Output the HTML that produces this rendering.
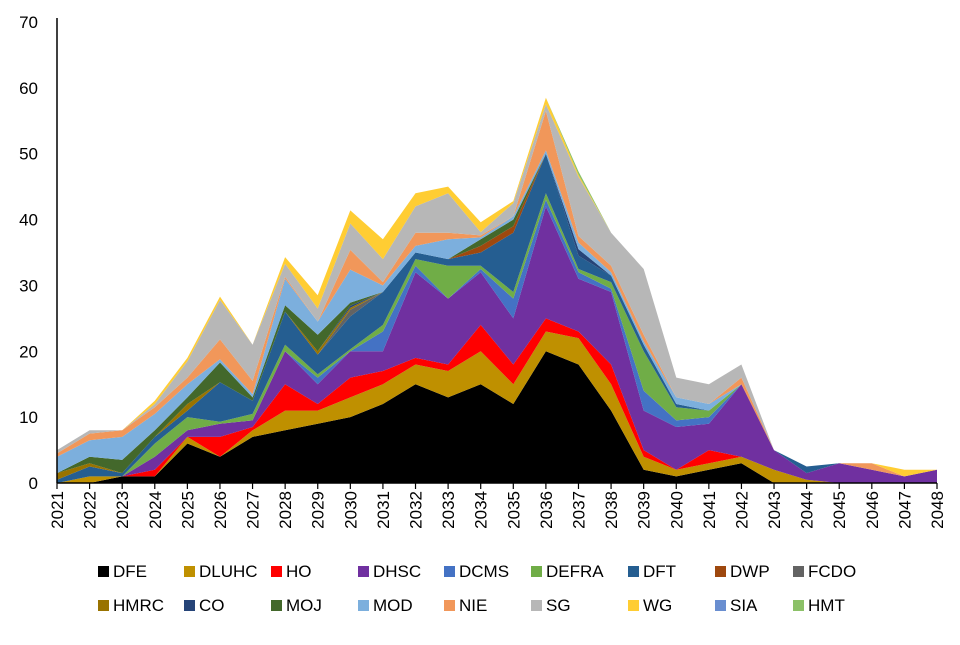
<!DOCTYPE html>
<html><head><meta charset="utf-8"><style>
body{margin:0;background:#fff;font-family:"Liberation Sans",Arial,sans-serif}
svg text{font-family:"Liberation Sans",Arial,sans-serif;fill:#000}
</style></head><body>
<svg id="chart" width="960" height="640" xmlns="http://www.w3.org/2000/svg"></svg>
<script>
const years=[2021,2022,2023,2024,2025,2026,2027,2028,2029,2030,2031,2032,2033,2034,2035,2036,2037,2038,2039,2040,2041,2042,2043,2044,2045,2046,2047,2048];
const seriesNames=["DFE","DLUHC","HO","DHSC","DCMS","DEFRA","DFT","DWP","FCDO","HMRC","CO","MOJ","MOD","NIE","SG","WG","SIA","HMT"];
const seriesColors=["#000000","#bf9000","#ff0000","#7030a0","#4472c4","#70ad47","#255e91","#9e480e","#636363","#997300","#264478","#43682b","#7cafdd","#f1975a","#b7b7b7","#ffcd33","#698ed0","#8cc168"];
const DFE  =[0,0,1,1,6,4,7,8,9,10,12,15,13,15,12,20,18,11,2,1,2,3,0,0,0,0,0,0];
const DLUHC=[0,1,0,0,1,0,1,3,2,3,3,3,4,5,3,3,4,4,2,1,1,1,2,0.5,0,0,0,0];
const HO   =[0,0,0,1,0,3,0.5,4,1,3,2,1,1,4,3,2,1,3,1,0,2,0,0,0,0,0,0,0];
const DHSC =[0,0,0,2,1,2,1,5,3,4,3,13,10,8,7,17,8,11,6,6.5,4,11,3,1,3,2,1,2];
const DCMS =[0,0,0,0,0,0,0,0,1,0,3,1,0,0.5,3,1,1,0.5,3,1,1,0,0,0,0,0,0,0];
const DEFRA=[0,0,0,2,2,0.3,1,1,0.5,0.3,1,1,5,0.5,1,1,0.5,1,6,2,1,0,0,0,0,0,0,0];
const DFT  =[0.5,1.5,0.5,1,1,6,2,5,3,5,5,1,1,2,9,6,2,1,1,0.5,0,0,0,1,0,0,0,0];
const DWP  =[0,0,0,0,0,0,0,0,0,0,0,0,0,1,1,0,0,0,0,0,0,0,0,0,0,0,0,0];
const FCDO =[0,0,0,0,0,0,0,0,0,1,0,0,0,0,0,0,0,0,0,0,0,0,0,0,0,0,0,0];
const HMRC =[1,0.5,0,0,1,0,0,0,0.5,0.3,0,0,0,0,0,0,0,0,0,0,0,0,0,0,0,0,0,0];
const CO   =[0,0,0,0,0,0,0,0,0,0.3,0,0,0,0,0,0,1,0,0,0,0,0,0,0,0,0,0,0];
const MOJ  =[0,1,2,1,1,3,0.5,1,2.5,0.5,0,0,0,1,1,0,0,0,0,0,0,0,0,0,0,0,0,0];
const MOD  =[2.5,2.5,3.5,2.5,2,0.5,0.5,4,2,5,1,1,3,0.3,0.5,0.5,1,0.5,0.5,1,1,0,0,0,0,0,0,0];
const NIE  =[0.5,1,1,1,1,3,2,0.3,0,3,0.5,2,1,0.3,0,6,1,1,1,0,0,1,0,0,0,1,0,0];
const SG   =[0.5,0.5,0,0.5,2.5,6,5.5,2,2,4,3.5,4,6,0.5,2,1,9,5,10,3,3,2,0,0,0,0,0,0];
const WG   =[0,0,0,0.5,0.5,0.5,0,1,2,2,3,2,1,1.5,0.3,1,0.3,0,0,0,0,0,0,0,0,0,1,0];
const SIA  =[0,0,0,0,0,0,0,0,0,0,0,0,0,0,0,0,0,0,0,0,0,0,0,0,0,0,0,0];
const HMT  =[0,0,0,0,0,0,0,0,0,0,0,0,0,0,0,0,0.5,0,0,0,0,0,0,0,0,0,0,0];
const seriesValues=[DFE,DLUHC,HO,DHSC,DCMS,DEFRA,DFT,DWP,FCDO,HMRC,CO,MOJ,MOD,NIE,SG,WG,SIA,HMT];
const yTicks=[0,10,20,30,40,50,60,70];

const NS="http://www.w3.org/2000/svg";
const svg=document.getElementById('chart');
const X0=57,X1=937,Y0=483,Y1=22,YMAX=70;
const xs=i=>X0+(X1-X0)*i/(years.length-1);
const ys=v=>Y0-(Y0-Y1)*v/YMAX;
function mk(t,a){const e=document.createElementNS(NS,t);for(const k in a)e.setAttribute(k,a[k]);svg.appendChild(e);return e;}

let base=years.map(()=>0);
seriesValues.forEach((vals,s)=>{
  const top=base.map((b,i)=>b+vals[i]);
  let d="";
  top.forEach((v,i)=>{d+=(i?"L":"M")+xs(i).toFixed(1)+","+ys(v).toFixed(1);});
  for(let i=years.length-1;i>=0;i--)d+="L"+xs(i).toFixed(1)+","+ys(base[i]).toFixed(1);
  d+="Z";
  const p=mk('path',{d:d,fill:seriesColors[s],stroke:'none'});
  
  
  base=top;
});

const ya=mk('line',{x1:X0,y1:Y1-4,x2:X0,y2:Y0,stroke:'#000','stroke-width':1.5});


const xa=mk('line',{x1:X0,y1:Y0,x2:X1,y2:Y0,stroke:'#000','stroke-width':1.5});



yTicks.forEach(v=>{
  const t=mk('text',{x:38,y:ys(v)+6,'text-anchor':'end','font-size':17});
  t.textContent=v;
  
  
});
years.forEach((yr,i)=>{
  const tk=mk('line',{x1:xs(i),y1:Y0,x2:xs(i),y2:Y0+6,stroke:'#000','stroke-width':1.2});
  
  
  const t=mk('text',{x:0,y:0,'text-anchor':'end','font-size':17,transform:`translate(${xs(i)+6},${Y0+8}) rotate(-90)`});
  t.textContent=yr;
  
  
});

const legendX=[113,199,286,373,459,546,643,730,808];
seriesNames.forEach((n,s)=>{
  const row=Math.floor(s/9),col=s%9;
  const lx=legendX[col],ly=row?611:577;
  const sw=mk('rect',{x:lx-15,y:ly-11,width:11,height:11,fill:seriesColors[s]});
  
  
  const t=mk('text',{x:lx,y:ly,'font-size':17});
  t.textContent=n;
  
  
});
</script>
</body></html>
